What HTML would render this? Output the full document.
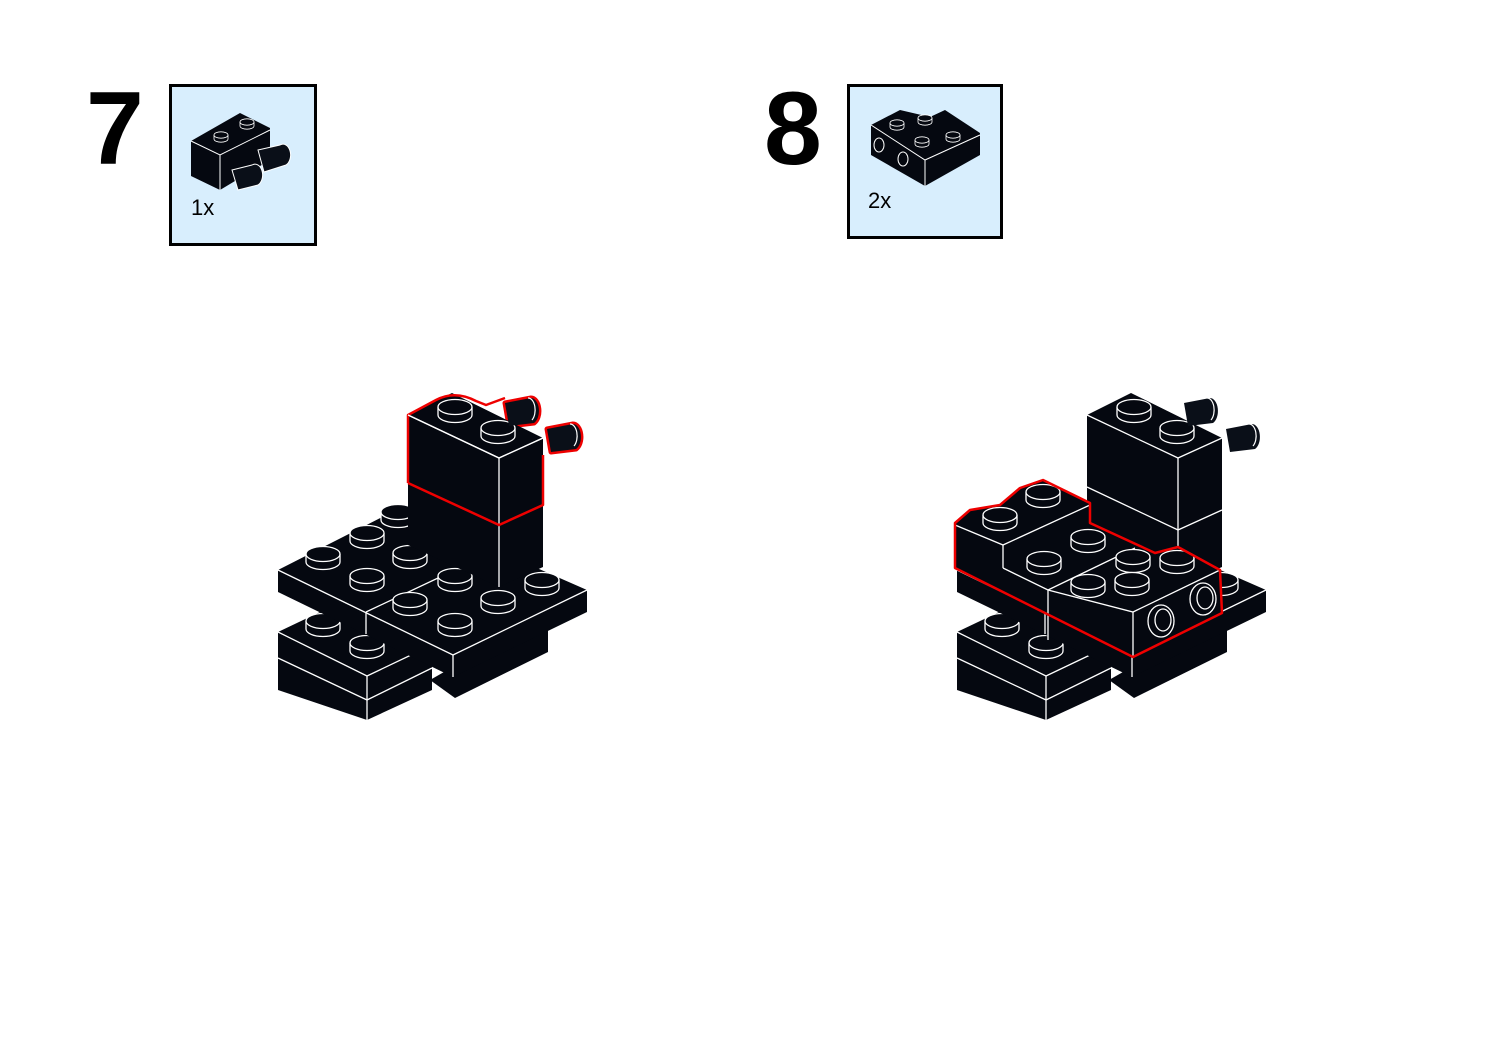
<!DOCTYPE html>
<html><head><meta charset="utf-8"><style>
html,body{margin:0;padding:0;background:#fff;width:1500px;height:1061px;overflow:hidden}
</style></head><body>
<svg width="1500" height="1061" viewBox="0 0 1500 1061" xmlns="http://www.w3.org/2000/svg">
<defs>
<g id="s"><path d="M-17,0 v8 a17,7.5 0 0 0 34,0 v-8" fill="#050810" stroke="#fff" stroke-width="1.3"/><ellipse cx="0" cy="0" rx="17" ry="7.5" fill="#050810" stroke="#fff" stroke-width="1.3"/></g>
<g id="ss"><path d="M-7,0 v4 a7,3.2 0 0 0 14,0 v-4" fill="#050810" stroke="#fff" stroke-width="0.8"/><ellipse cx="0" cy="0" rx="7" ry="3.2" fill="#050810" stroke="#fff" stroke-width="0.8"/></g>
<path id="pin" d="M0,-9 L26,-14 a8,13 0 0 1 3,25 L4,14 Z"/>
<g id="pins">
 <use href="#pin" x="505" y="412" fill="#0a0f18"/>
 <path d="M528,398 a7,12 0 0 1 4,22" fill="none" stroke="#fff" stroke-width="1.2"/>
 <use href="#pin" x="547" y="438" fill="#0a0f18"/>
 <path d="M570,424 a7,12 0 0 1 4,22" fill="none" stroke="#fff" stroke-width="1.2"/>
</g>
<g id="base">
 <polygon points="430,680 455,698 548,652 548,630 500,640" fill="#050810"/>
 <polygon points="278,632 320,612 432,660 432,690 367,720 278,690" fill="#050810"/>
 <polyline points="278,632 367,676 432,645" fill="none" stroke="#fff" stroke-width="1.3"/>
 <line x1="367" y1="676" x2="367" y2="720" stroke="#fff" stroke-width="1.3"/>
 <polyline points="278,658 367,700 432,668" fill="none" stroke="#fff" stroke-width="1.3"/>
 <use href="#s" x="323" y="621"/><use href="#s" x="367" y="643"/>
 <polygon points="278,570 400,508 587,590 587,612 453,677 278,592" fill="#050810"/>
 <polyline points="278,570 453,655 587,590" fill="none" stroke="#fff" stroke-width="1.3"/>
 <line x1="453" y1="655" x2="453" y2="677" stroke="#fff" stroke-width="1.3"/>
 <line x1="366" y1="612" x2="366" y2="634" stroke="#fff" stroke-width="1.3"/>
 <line x1="366" y1="612" x2="455" y2="570" stroke="#fff" stroke-width="1.3"/>
 <use href="#s" x="398" y="512"/>
 <use href="#s" x="367" y="533"/><use href="#s" x="323" y="554"/><use href="#s" x="410" y="553"/><use href="#s" x="367" y="576"/>
 <use href="#s" x="455" y="576"/><use href="#s" x="542" y="580"/><use href="#s" x="410" y="600"/><use href="#s" x="498" y="598"/><use href="#s" x="455" y="621"/>
 <polygon points="408,415 452,393 543,438 543,567 499,587 408,545" fill="#050810"/>
 <polyline points="408,415 499,458 543,438" fill="none" stroke="#fff" stroke-width="1.3"/>
 <line x1="499" y1="458" x2="499" y2="587" stroke="#fff" stroke-width="1.3"/>
 <use href="#s" x="455" y="407"/><use href="#s" x="498" y="428"/>
</g>
</defs>

<text x="86" y="164" font-family="Liberation Sans, sans-serif" font-weight="bold" font-size="104">7</text>
<rect x="170.5" y="85.5" width="145" height="159" fill="#d8eefd" stroke="#000" stroke-width="3"/>
<text x="191" y="215" font-family="Liberation Sans, sans-serif" font-size="22">1x</text>
<g>
 <polygon points="191,141 240,113 270,128 270,160 220,190 191,176" fill="#050810"/>
 <polyline points="191,141 220,155 270,130" fill="none" stroke="#fff" stroke-width="1"/>
 <line x1="220" y1="155" x2="220" y2="190" stroke="#fff" stroke-width="1"/>
 <use href="#ss" x="221" y="135"/><use href="#ss" x="247" y="122"/>
 <path d="M232,170 L252,165 a7,10 0 0 1 6,20 L238,190 Z" fill="#0a0f18" stroke="#fff" stroke-width="1"/>
 <path d="M258,150 L280,145 a7,10 0 0 1 6,20 L264,172 Z" fill="#0a0f18" stroke="#fff" stroke-width="1"/>
</g>

<text x="764" y="164" font-family="Liberation Sans, sans-serif" font-weight="bold" font-size="104">8</text>
<rect x="848.5" y="85.5" width="153" height="152" fill="#d8eefd" stroke="#000" stroke-width="3"/>
<text x="868" y="208" font-family="Liberation Sans, sans-serif" font-size="22">2x</text>
<g>
 <polygon points="871,125 900,110 930,117 945,110 980,133 980,155 925,186 871,155" fill="#050810"/>
 <polyline points="871,125 925,160 980,135" fill="none" stroke="#fff" stroke-width="1"/>
 <line x1="925" y1="160" x2="925" y2="186" stroke="#fff" stroke-width="1"/>
 <use href="#ss" x="897" y="123"/><use href="#ss" x="925" y="118"/><use href="#ss" x="922" y="140"/><use href="#ss" x="953" y="135"/>
 <ellipse cx="879" cy="145" rx="5" ry="7" fill="none" stroke="#fff"/><ellipse cx="903" cy="159" rx="5" ry="7" fill="none" stroke="#fff"/>
</g>

<!-- model 7 -->
<g stroke="#e00" stroke-width="5" stroke-linejoin="round" fill="#e00">
 <use href="#pin" x="505" y="412"/><use href="#pin" x="547" y="438"/>
</g>
<use href="#base"/>
<use href="#pins"/>
<path d="M408,483 L408,415 L436,400 Q455,390 476,401 L486,405 L505,398 M543,455 L543,505 L499,525 L408,483" fill="none" stroke="#e00" stroke-width="2.5" stroke-linejoin="round"/>
<polyline points="408,415 499,458 543,438" fill="none" stroke="#fff" stroke-width="1.3"/>

<!-- model 8 -->
<g transform="translate(679,0)"><use href="#base"/><use href="#pins"/>
 <polyline points="408,487 499,530 543,510" fill="none" stroke="#fff" stroke-width="1.3"/>
</g>
<polygon points="955,568 955,523 970,510 1000,505 1020,488 1043,480 1090,503 1090,523 1155,553 1178,547 1220,570 1222,613 1133,657" fill="#050810"/>
<polyline points="955,525 1003,545 1090,505" fill="none" stroke="#fff" stroke-width="1.3"/>
<line x1="1003" y1="545" x2="1003" y2="568" stroke="#fff" stroke-width="1.3"/>
<polyline points="1003,568 1048,590 1133,612 1220,570" fill="none" stroke="#fff" stroke-width="1.3"/>
<line x1="1048" y1="590" x2="1048" y2="640" stroke="#fff" stroke-width="1.3"/>
<line x1="1133" y1="612" x2="1133" y2="657" stroke="#fff" stroke-width="1.3"/>
<line x1="1048" y1="590" x2="1135" y2="548" stroke="#fff" stroke-width="1.3"/>
<use href="#s" x="1000" y="515"/><use href="#s" x="1043" y="492"/>
<use href="#s" x="1044" y="559"/><use href="#s" x="1088" y="537"/><use href="#s" x="1133" y="557"/><use href="#s" x="1177" y="558"/><use href="#s" x="1088" y="582"/><use href="#s" x="1132" y="580"/>
<ellipse cx="1161" cy="621" rx="13" ry="16" fill="none" stroke="#fff" stroke-width="1.3"/><ellipse cx="1163" cy="620" rx="8" ry="11" fill="none" stroke="#fff" stroke-width="1.3"/>
<ellipse cx="1203" cy="599" rx="13" ry="16" fill="none" stroke="#fff" stroke-width="1.3"/><ellipse cx="1205" cy="598" rx="8" ry="11" fill="none" stroke="#fff" stroke-width="1.3"/>
<path d="M955,568 L955,523 L970,510 L1000,505 L1020,488 L1043,480 L1090,503 L1090,523 L1155,553 L1178,547 L1220,570 L1222,613 L1133,657 Z" fill="none" stroke="#e00" stroke-width="2.5" stroke-linejoin="round"/>
</svg>
</body></html>
